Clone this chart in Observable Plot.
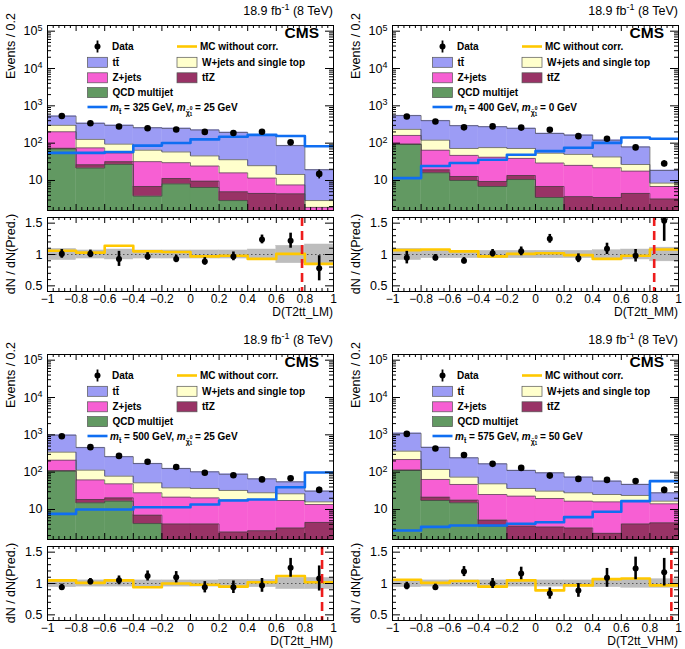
<!DOCTYPE html>
<html>
<head>
<meta charset="utf-8">
<script src="https://cdn.jsdelivr.net/npm/d3@7"></script>
<script src="https://cdn.jsdelivr.net/npm/@observablehq/plot@0.6"></script>
<style>
html,body{margin:0;padding:0;background:#fff;}
#root{position:relative;width:685px;height:649px;overflow:hidden;font-family:"Liberation Sans",Arial,Helvetica,sans-serif;}
.pane{position:absolute;width:342px;height:325px;}
.pane svg{position:absolute;left:0;overflow:visible;}
</style>
</head>
<body>
<div id="root"></div>
<script>
// ---------------- data ----------------
const binEdges = [-1, -0.8, -0.6, -0.4, -0.2, 0, 0.2, 0.4, 0.6, 0.8, 1];
const xAxisTitles = ["D(T2tt_LM)", "D(T2tt_MM)", "D(T2tt_HM)", "D(T2tt_VHM)"];
const stopMass = [325, 400, 500, 575];
const lspMass = [25, 0, 25, 50];
const cutValues = [0.78, 0.83, 0.92, 0.95];
const mainYTicks = [10, 100, 1000, 10000, 100000];
const mainYTickLabels = ["10", "10^2", "10^3", "10^4", "10^5"];
const ratioYTicks = [0.5, 1, 1.5];
const ratioYTickLabels = ["0.5", "1", "1.5"];

// LM
const LM_qcd    = [70, 21.5, 27, 3.8, 8.1, 6.5, 2.9, 0, 0, 0];
const LM_ttz    = [3, 5, 5, 3.1, 3.2, 3.1, 2.1, 4.5, 4.4, 1.0];
const LM_zjets  = [129, 48.3, 22.8, 25.1, 18.7, 14.8, 11, 7.1, 3.2, 0.9];
const LM_wjets  = [98, 51.2, 39.2, 32.7, 28, 21.1, 20, 13.3, 6.9, 1.0];
const LM_ttbar  = [230, 214, 206, 194, 191, 180, 158, 139, 71.5, 16.5];
const LM_data   = [535, 343, 279, 251, 232, 200, 188, 203, 105, 15];
const LM_dataErr= [23, 19, 17, 16, 15, 14, 14, 14, 10, 4];
const LM_signal = [54.8, 54.8, 58, 86, 101, 126, 148, 167, 155, 83];
const LM_ratio    = [1.01, 1.01, 0.93, 0.97, 0.93, 0.89, 0.97, 1.24, 1.22, 0.78];
const LM_ratioErr = [0.07, 0.06, 0.12, 0.06, 0.06, 0.06, 0.07, 0.07, 0.12, 0.2];
const LM_mcNoCorr = [1.06, 1.03, 1.14, 1.05, 1.04, 0.97, 0.98, 0.93, 1.01, 0.85];
const LM_band     = [0.09, 0.065, 0.08, 0.065, 0.065, 0.065, 0.065, 0.08, 0.14, 0.16];

// MM
const MM_qcd    = [92, 16.1, 10, 6.9, 10.6, 3.5, 0, 0, 0, 0];
const MM_ttz    = [3, 3.3, 2.8, 2.5, 3.0, 3.4, 3.7, 3.5, 4.5, 3.2];
const MM_zjets  = [66, 45.3, 34.2, 32.6, 25.4, 22.5, 21.7, 18.5, 13.3, 3.7];
const MM_wjets  = [73, 55.3, 25, 34, 33, 24.3, 24.6, 20.7, 9, 1.6];
const MM_ttbar  = [314, 281, 222, 200, 177, 128.3, 114, 77.3, 52.2, 10.1];
const MM_data   = [520, 381, 265, 281, 261, 228, 154, 131, 77, 28.6];
const MM_dataErr= [23, 20, 16, 17, 16, 15, 12, 11, 9, 5.3];
const MM_signal = [11.6, 24.4, 29.4, 36, 49, 61, 75, 102, 142, 131];
const MM_ratio    = [0.95, 0.95, 0.9, 1.02, 1.05, 1.25, 0.94, 1.09, 0.98, 1.54];
const MM_ratioErr = [0.1, 0.05, 0.05, 0.06, 0.07, 0.07, 0.07, 0.09, 0.1, 0.33];
const MM_mcNoCorr = [1.07, 1.08, 1.05, 0.97, 1.01, 1.02, 0.99, 0.93, 0.98, 1.08];
const MM_band     = [0.09, 0.06, 0.06, 0.06, 0.06, 0.06, 0.06, 0.07, 0.08, 0.11];

// HM
const HM_qcd    = [106, 15.1, 16.7, 4.2, 0, 0, 0, 0, 0, 0];
const HM_ttz    = [4, 3.4, 3.8, 2.85, 4.1, 4.1, 2.5, 2.7, 3.2, 4.5];
const HM_zjets  = [99, 43.5, 28.2, 20.95, 17.3, 16.4, 15.6, 15.8, 14.2, 9.1];
const HM_wjets  = [134, 51, 29.3, 23.8, 16.6, 16, 14.2, 9.5, 8.9, 2.4];
const HM_ttbar  = [637, 342, 182, 118, 87, 65.5, 55.7, 38, 28.7, 15];
const HM_data   = [920, 468, 273, 190, 137, 96, 83, 64, 69, 33.5];
const HM_dataErr= [30, 22, 17, 14, 12, 10, 9, 8, 8, 6];
const HM_signal = [7.65, 10, 10, 11.5, 11.5, 13.6, 17.4, 18.5, 39.6, 97.9];
const HM_ratio    = [0.94, 1.03, 1.05, 1.12, 1.1, 0.94, 0.94, 0.97, 1.25, 1.08];
const HM_ratioErr = [0.05, 0.05, 0.07, 0.08, 0.09, 0.09, 0.1, 0.11, 0.15, 0.2];
const HM_mcNoCorr = [1.05, 1.01, 1.05, 0.94, 1.0, 0.98, 0.95, 1.02, 1.12, 1.02];
const HM_band     = [0.06, 0.05, 0.05, 0.05, 0.05, 0.05, 0.06, 0.06, 0.09, 0.09];

// VHM
const VHM_qcd    = [111, 17.4, 15.1, 3.6, 0, 0, 0, 0, 0, 0];
const VHM_ttz    = [3, 4, 2.7, 1.6, 3.6, 3.4, 3.2, 2.3, 4.1, 4.4];
const VHM_zjets  = [104, 42.3, 29, 20, 19.2, 16.3, 13.5, 13.7, 12.6, 9.8];
const VHM_wjets  = [147, 54.3, 26.7, 23.5, 13.7, 11.3, 11.3, 9.2, 7, 2.5];
const VHM_ttbar  = [735, 342, 168.5, 118.3, 74.5, 65, 45.5, 32.2, 23.1, 11.2];
const VHM_data   = [1060, 432, 288, 167, 130, 81, 66, 62, 58, 33.5];
const VHM_dataErr= [33, 21, 17, 13, 11, 9, 8, 8, 8, 6];
const VHM_signal = [2.74, 3.43, 3.73, 3.73, 4.13, 4.57, 6.24, 8.66, 16.7, 57.4];
const VHM_ratio    = [0.96, 0.94, 1.19, 1.0, 1.16, 0.84, 0.89, 1.09, 1.24, 1.18];
const VHM_ratioErr = [0.06, 0.05, 0.08, 0.08, 0.1, 0.09, 0.11, 0.15, 0.18, 0.22];
const VHM_mcNoCorr = [1.06, 1.01, 1.04, 0.95, 1.05, 0.89, 0.97, 1.07, 1.08, 0.97];
const VHM_band     = [0.06, 0.05, 0.05, 0.05, 0.05, 0.05, 0.05, 0.06, 0.07, 0.07];

// ---------------- styling ----------------
const FONT = '"Liberation Sans", Arial, Helvetica, sans-serif';
const COLORS = {qcd: "#629962", ttz: "#993366", zjets: "#f75fd3", wjets: "#ffffcc", ttbar: "#9c9cf5"};
const BLUE = "#0f6ef2";
const GOLD = "#ffc800";
const RED = "#ee1c1c";
const FLOOR = 0.01;

const panels = [
  {qcd: LM_qcd, ttz: LM_ttz, zjets: LM_zjets, wjets: LM_wjets, ttbar: LM_ttbar, data: LM_data, dataErr: LM_dataErr, signal: LM_signal, ratio: LM_ratio, ratioErr: LM_ratioErr, mc: LM_mcNoCorr, band: LM_band},
  {qcd: MM_qcd, ttz: MM_ttz, zjets: MM_zjets, wjets: MM_wjets, ttbar: MM_ttbar, data: MM_data, dataErr: MM_dataErr, signal: MM_signal, ratio: MM_ratio, ratioErr: MM_ratioErr, mc: MM_mcNoCorr, band: MM_band},
  {qcd: HM_qcd, ttz: HM_ttz, zjets: HM_zjets, wjets: HM_wjets, ttbar: HM_ttbar, data: HM_data, dataErr: HM_dataErr, signal: HM_signal, ratio: HM_ratio, ratioErr: HM_ratioErr, mc: HM_mcNoCorr, band: HM_band},
  {qcd: VHM_qcd, ttz: VHM_ttz, zjets: VHM_zjets, wjets: VHM_wjets, ttbar: VHM_ttbar, data: VHM_data, dataErr: VHM_dataErr, signal: VHM_signal, ratio: VHM_ratio, ratioErr: VHM_ratioErr, mc: VHM_mcNoCorr, band: VHM_band}
];
const paneLeft = [0, 345, 0, 345];
const paneTop = [0, 0, 329, 329];

// axis decoration ticks
const xMinor = d3.range(0, 51).filter(i => i % 5 !== 0).map(i => -1 + i * 0.04);
const yLogMinor = [];
for (let k = 0; k <= 5; k++) for (let m = 2; m <= 9; m++) { const v = m * Math.pow(10, k); if (v > 1.6 && v < 1.4e5) yLogMinor.push(v); }
const yRatioMinor = [0.6, 0.7, 0.8, 0.9, 1.1, 1.2, 1.3, 1.4];

const W = 342, ML = 47, MR = 9, FW = W - ML - MR;

function steps(vals) {
  const pts = vals.map((v, j) => ({x: binEdges[j], y: Math.max(v, FLOOR)}));
  pts.push({x: binEdges[binEdges.length - 1], y: Math.max(vals[vals.length - 1], FLOOR)});
  return pts;
}
function steps0(vals) {
  const pts = vals.map((v, j) => ({x: binEdges[j], y: v}));
  pts.push({x: binEdges[binEdges.length - 1], y: vals[vals.length - 1]});
  return pts;
}

function frameTicks(FH, yMaj, yMin, xLen, xLenMin, yLen, yLenMin) {
  const xMaj = binEdges;
  return [
    Plot.tickX(xMaj, {x: d => d, insetTop: FH - xLen, stroke: "black"}),
    Plot.tickX(xMaj, {x: d => d, insetBottom: FH - xLen, stroke: "black"}),
    Plot.tickX(xMinor, {x: d => d, insetTop: FH - xLenMin, stroke: "black"}),
    Plot.tickX(xMinor, {x: d => d, insetBottom: FH - xLenMin, stroke: "black"}),
    Plot.tickY(yMaj, {y: d => d, insetRight: FW - yLen, stroke: "black"}),
    Plot.tickY(yMaj, {y: d => d, insetLeft: FW - yLen, stroke: "black"}),
    Plot.tickY(yMin, {y: d => d, insetRight: FW - yLenMin, stroke: "black"}),
    Plot.tickY(yMin, {y: d => d, insetLeft: FW - yLenMin, stroke: "black"})
  ];
}

function supLabels(svg) {
  d3.select(svg).selectAll("text").each(function () {
    const t = this.textContent;
    if (!t.includes("^") || this.querySelector("tspan")) return;
    const [b, e] = t.split("^");
    const s = d3.select(this);
    s.text(null);
    s.append("tspan").text(b);
    s.append("tspan").attr("dy", "-0.5em").attr("font-size", "72%").text(e);
  });
}

function buildMain(i) {
  const p = panels[i];
  const H = 215, MT = 25, MB = 5, FH = H - MT - MB;
  const marks = [];
  const order = [["qcd", p.qcd], ["ttz", p.ttz], ["zjets", p.zjets], ["wjets", p.wjets], ["ttbar", p.ttbar]];
  let cum = p.ttbar.map(() => 0);
  const tops = [];
  for (const [key, vals] of order) {
    const lo = cum.slice();
    cum = cum.map((c, j) => c + vals[j]);
    const hi = cum.slice();
    const rows = vals.map((v, j) => ({x1: binEdges[j], x2: binEdges[j + 1], y1: Math.max(lo[j], FLOOR), y2: hi[j], v})).filter(d => d.v > 0);
    marks.push(Plot.rect(rows, {x1: "x1", x2: "x2", y1: "y1", y2: "y2", fill: COLORS[key], stroke: COLORS[key], strokeWidth: 0.4, clip: true}));
    tops.push(steps(hi));
  }
  tops.forEach(t => marks.push(Plot.line(t, {x: "x", y: "y", curve: "step-after", stroke: "#3a3a3a", strokeWidth: 0.8, strokeOpacity: 0.8, clip: true})));
  marks.push(Plot.line(steps(p.signal), {x: "x", y: "y", curve: "step-after", stroke: BLUE, strokeWidth: 2.6, clip: true}));
  const dataRows = p.data.map((v, j) => ({x: (binEdges[j] + binEdges[j + 1]) / 2, y: v, lo: Math.max(v - p.dataErr[j], FLOOR), hi: v + p.dataErr[j]}));
  marks.push(Plot.ruleX(dataRows, {x: "x", y1: "lo", y2: "hi", stroke: "black", strokeWidth: 1.8, clip: true}));
  marks.push(Plot.dot(dataRows, {x: "x", y: "y", r: 3.3, fill: "black", stroke: null}));
  marks.push(...frameTicks(FH, mainYTicks, yLogMinor, 6, 3, 8, 4));
  const labelFor = Object.fromEntries(mainYTicks.map((t, k) => [t, mainYTickLabels[k]]));
  marks.push(Plot.axisY({ticks: mainYTicks, tickFormat: d => labelFor[d], tickSize: 0, tickPadding: 5, label: null}));
  marks.push(Plot.frame({stroke: "black", strokeWidth: 1}));
  const svg = Plot.plot({
    width: W, height: H, marginLeft: ML, marginRight: MR, marginTop: MT, marginBottom: MB,
    style: {fontFamily: FONT, fontSize: "12.5px", background: "transparent", overflow: "visible"},
    x: {domain: [-1, 1], axis: null},
    y: {type: "log", domain: [1.57, 1.42e5]},
    marks
  });
  supLabels(svg);
  const g = d3.select(svg).append("g").attr("font-family", FONT).attr("text-anchor", "start");
  // lumi title
  const tt = g.append("text").attr("x", W - MR).attr("y", 15).attr("text-anchor", "end").attr("font-size", 12.5);
  tt.append("tspan").text("18.9 fb");
  tt.append("tspan").attr("dy", -5).attr("font-size", 9).text("-1");
  tt.append("tspan").attr("dy", 5).text(" (8 TeV)");
  // CMS
  g.append("text").attr("x", 319).attr("y", 38).attr("text-anchor", "end").attr("font-weight", "bold").attr("font-size", 15.5).text("CMS");
  // y label
  g.append("text").attr("transform", "translate(15,13) rotate(-90)").attr("text-anchor", "end").attr("font-size", 12.5).text("Events / 0.2");
  // legend
  const L = g.append("g").attr("font-size", 10).attr("font-weight", "bold").attr("text-anchor", "start");
  const rows = [46.5, 62.3, 77.8, 92.6, 107];
  const c1 = 87.5, c2 = 177, bw = 20, bh = 10;
  // Data
  L.append("line").attr("x1", c1 + 10).attr("x2", c1 + 10).attr("y1", rows[0] - 6).attr("y2", rows[0] + 6).attr("stroke", "black").attr("stroke-width", 1.8);
  L.append("circle").attr("cx", c1 + 10).attr("cy", rows[0]).attr("r", 3).attr("fill", "black");
  L.append("text").attr("x", 112).attr("y", rows[0] + 3.6).text("Data");
  const box = (x, y, col, label) => {
    L.append("rect").attr("x", x).attr("y", y - bh / 2).attr("width", bw).attr("height", bh).attr("fill", col).attr("stroke", "#555").attr("stroke-width", 0.7);
    L.append("text").attr("x", x + bw + 5).attr("y", y + 3.6).text(label);
  };
  box(c1, rows[1], COLORS.ttbar, "tt\u0304");
  box(c1, rows[2], COLORS.zjets, "Z+jets");
  box(c1, rows[3], COLORS.qcd, "QCD multijet");
  box(c2, rows[1], COLORS.wjets, "W+jets and single top");
  box(c2, rows[2], COLORS.ttz, "tt\u0304Z");
  L.append("line").attr("x1", c2).attr("x2", c2 + bw).attr("y1", rows[0]).attr("y2", rows[0]).attr("stroke", GOLD).attr("stroke-width", 2.6);
  L.append("text").attr("x", c2 + bw + 3).attr("y", rows[0] + 3.6).text("MC without corr.");
  L.append("line").attr("x1", c1).attr("x2", c1 + bw).attr("y1", rows[4]).attr("y2", rows[4]).attr("stroke", BLUE).attr("stroke-width", 2.6);
  const s = L.append("text").attr("x", 110).attr("y", rows[4] + 3.6);
  s.append("tspan").attr("font-style", "italic").text("m");
  s.append("tspan").attr("dy", 3).attr("font-size", 7).text("t\u0303");
  s.append("tspan").attr("dy", -3).text(` = ${stopMass[i]} GeV, `);
  s.append("tspan").attr("font-style", "italic").text("m");
  s.append("tspan").attr("dy", 4).attr("font-size", 7).text("\u03c7\u0303");
  s.append("tspan").attr("dy", -5).attr("font-size", 5).text("0");
  s.append("tspan").attr("dx", -3).attr("dy", 6).attr("font-size", 5).text("1");
  s.append("tspan").attr("dy", -5).text(` = ${lspMass[i]} GeV`);
  return svg;
}

function buildRatio(i) {
  const p = panels[i];
  const H = 110, MT = 2, MB = 34, FH = H - MT - MB;
  const bandRows = p.band.map((b, j) => ({x1: binEdges[j], x2: binEdges[j + 1], y1: 1 - b, y2: 1 + b}));
  const rRows = p.ratio.map((v, j) => ({x: (binEdges[j] + binEdges[j + 1]) / 2, y: v, lo: v - p.ratioErr[j], hi: v + p.ratioErr[j]}));
  const labelFor = Object.fromEntries(ratioYTicks.map((t, k) => [t, ratioYTickLabels[k]]));
  const marks = [
    Plot.rect(bandRows, {x1: "x1", x2: "x2", y1: "y1", y2: "y2", fill: "#bdbdbd", stroke: "#bdbdbd", strokeWidth: 0.4}),
    Plot.ruleY([1], {stroke: "#555", strokeWidth: 1.2, strokeDasharray: "1.5,2.5"}),
    Plot.line(steps0(p.mc), {x: "x", y: "y", curve: "step-after", stroke: GOLD, strokeWidth: 2.6, clip: true}),
    Plot.ruleX(rRows, {x: "x", y1: "lo", y2: "hi", stroke: "black", strokeWidth: 2.6, clip: true}),
    Plot.dot(rRows, {x: "x", y: "y", r: 3, fill: "black", stroke: null, clip: true}),
    Plot.ruleX([cutValues[i]], {stroke: RED, strokeWidth: 2.6, strokeDasharray: "9,5"}),
    ...frameTicks(FH, ratioYTicks, yRatioMinor, 6, 3, 8, 4),
    Plot.axisX({ticks: binEdges, tickSize: 0, tickPadding: 3, tickFormat: d => d3.format("")(+d.toFixed(1)), label: null, fontSize: 12}),
    Plot.axisY({ticks: ratioYTicks, tickFormat: d => labelFor[d], tickSize: 0, tickPadding: 5, label: null}),
    Plot.frame({stroke: "black", strokeWidth: 1})
  ];
  const svg = Plot.plot({
    width: W, height: H, marginLeft: ML, marginRight: MR, marginTop: MT, marginBottom: MB,
    style: {fontFamily: FONT, fontSize: "12.5px", background: "transparent", overflow: "visible"},
    x: {domain: [-1, 1]},
    y: {domain: [0.41, 1.59]},
    marks
  });
  const g = d3.select(svg).append("g").attr("font-family", FONT).attr("font-size", 12);
  g.append("text").attr("x", W - MR).attr("y", 101).attr("text-anchor", "end").text(xAxisTitles[i]);
  g.append("text").attr("transform", `translate(15,${MT + FH / 2}) rotate(-90)`).attr("text-anchor", "middle").attr("font-size", 12.5).text("dN / dN(Pred.)");
  return svg;
}

const root = document.getElementById("root");
panels.forEach((p, i) => {
  const pane = document.createElement("div");
  pane.className = "pane";
  pane.style.left = paneLeft[i] + "px";
  pane.style.top = paneTop[i] + "px";
  const m = buildMain(i);
  m.style.top = "0px";
  const r = buildRatio(i);
  r.style.top = "215px";
  pane.appendChild(m);
  pane.appendChild(r);
  root.appendChild(pane);
});
</script>
</body>
</html>
